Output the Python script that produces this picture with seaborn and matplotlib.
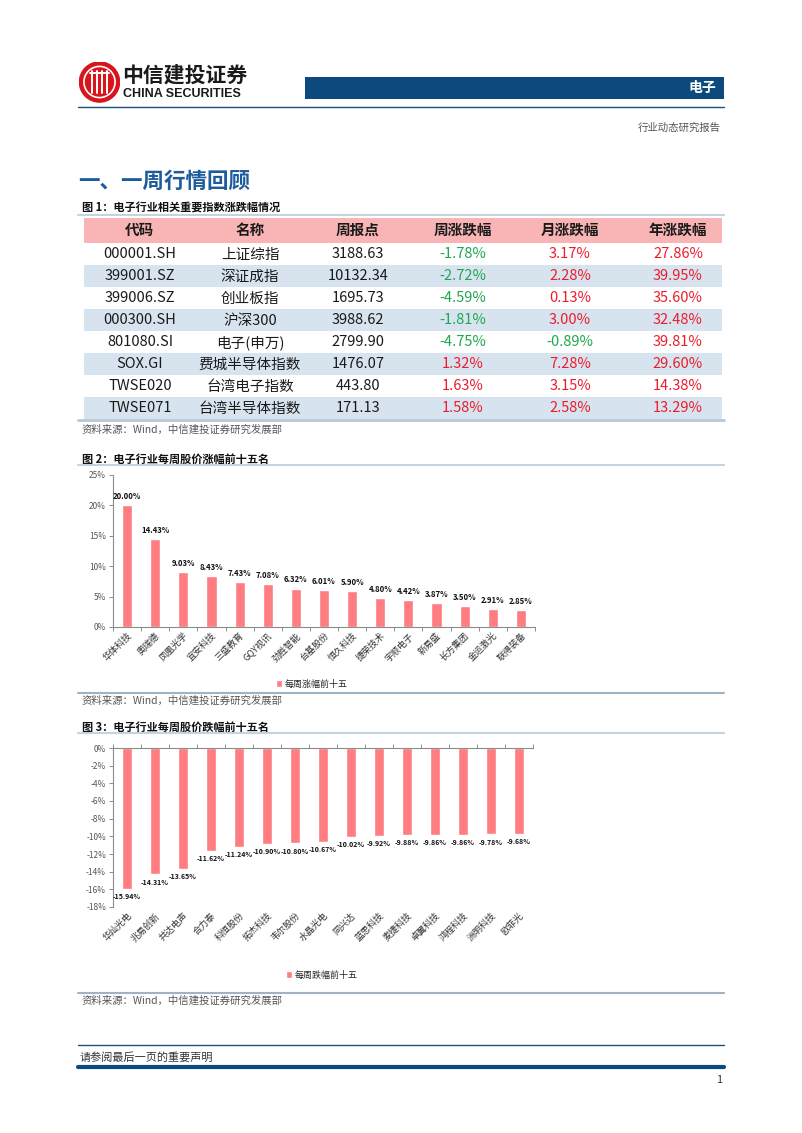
import matplotlib
matplotlib.use('Agg')
import matplotlib.pyplot as plt
import matplotlib.patches as mpatches
from matplotlib.lines import Line2D
from matplotlib.ticker import FixedLocator
import seaborn as sns
import pandas as pd
import numpy as np

sns.set_theme(style='white')
plt.rcParams['font.family'] = ['Noto Sans CJK SC', 'DejaVu Sans']
plt.rcParams['axes.unicode_minus'] = False

# ---- data ----
headers = ['代码', '名称', '周报点', '周涨跌幅', '月涨跌幅', '年涨跌幅']
codes = ['000001.SH', '399001.SZ', '399006.SZ', '000300.SH', '801080.SI', 'SOX.GI', 'TWSE020', 'TWSE071']
names = ['上证综指', '深证成指', '创业板指', '沪深300', '电子(申万)', '费城半导体指数', '台湾电子指数', '台湾半导体指数']
points = [3188.63, 10132.34, 1695.73, 3988.62, 2799.90, 1476.07, 443.80, 171.13]
week_chg = [-1.78, -2.72, -4.59, -1.81, -4.75, 1.32, 1.63, 1.58]
month_chg = [3.17, 2.28, 0.13, 3.00, -0.89, 7.28, 3.15, 2.58]
year_chg = [27.86, 39.95, 35.60, 32.48, 39.81, 29.60, 14.38, 13.29]

up_names = ['华体科技', '奥瑞德', '凤凰光学', '宜安科技', '三盛教育', 'GQY视讯', '劲胜智能', '台基股份',
            '恒久科技', '捷荣技术', '宇顺电子', '新易盛', '长方集团', '金运激光', '联得装备']
up_values = [20.00, 14.43, 9.03, 8.43, 7.43, 7.08, 6.32, 6.01, 5.90, 4.80, 4.42, 3.87, 3.50, 2.91, 2.85]

down_names = ['华灿光电', '兆易创新', '共达电声', '合力泰', '科恒股份', '拓杰科技', '韦尔股份', '水晶光电',
              '同兴达', '蓝思科技', '麦捷科技', '卓翼科技', '鸿程科技', '洲明科技', '欧菲光']
down_values = [-15.94, -14.31, -13.65, -11.62, -11.24, -10.90, -10.80, -10.67, -10.02, -9.92, -9.88,
               -9.86, -9.86, -9.78, -9.68]

# ---- page ----
W, H = 802, 1133
fig = plt.figure(figsize=(W / 100, H / 100), dpi=100)
fig.patch.set_facecolor('white')

def fx(x):
    return x / W

def fy(y):
    return 1 - y / H

def hline(y, color, lw, x0=78, x1=724):
    fig.add_artist(Line2D([fx(x0), fx(x1)], [fy(y), fy(y)], color=color, lw=lw,
                          transform=fig.transFigure))

def rect(x0, y0, x1, y1, color):
    fig.add_artist(mpatches.Rectangle((fx(x0), fy(y1)), (x1 - x0) / W, (y1 - y0) / H,
                                      facecolor=color, lw=0, transform=fig.transFigure))

def text(x, y, s, **kw):
    kw.setdefault('va', 'center')
    fig.text(fx(x), fy(y), s, **kw)

BLUE = '#0c4a7e'
PINK = '#ff7c80'
RED = '#ec1c2c'
GREEN = '#1ea84e'
GRAY_LINE = '#9fb3c6'

# logo
ax_logo = fig.add_axes([fx(79), fy(103), 41 / W, 42 / H])
ax_logo.set_xlim(0, 1)
ax_logo.set_ylim(0, 1)
ax_logo.set_aspect('equal')
ax_logo.axis('off')
ax_logo.add_patch(mpatches.Circle((0.5, 0.5), 0.49, color='#d8141c'))
ax_logo.add_patch(mpatches.Circle((0.5, 0.5), 0.38, fill=False, ec='white', lw=1.2))
for xx in [0.32, 0.44, 0.56, 0.68]:
    ax_logo.plot([xx, xx], [0.22, 0.78], color='white', lw=1.4)
ax_logo.plot([0.28, 0.72], [0.72, 0.72], color='white', lw=1.4)

text(122, 75, '中信建投证券', fontsize=15, fontweight='bold', color='#1a1a1a')
text(123, 94, 'CHINA SECURITIES', fontsize=9, fontweight='bold', color='#1a1a1a',
     family=['Liberation Sans', 'DejaVu Sans'])

rect(305, 77, 724, 99, BLUE)
text(716, 88, '电子', fontsize=10, fontweight='bold', color='white', ha='right')
hline(107, '#1d4f7c', 1.0)
text(721, 128, '行业动态研究报告', fontsize=7.5, color='#555555', ha='right')

text(78, 181, '一、一周行情回顾', fontsize=15.5, fontweight='bold', color='#1c5b9c')

# ---- table ----
text(82, 208, '图 1：电子行业相关重要指数涨跌幅情况', fontsize=8, fontweight='bold', color='#111111')
hline(215, '#c5d3e0', 1.5)
col_x = [140, 250, 358, 463, 570, 678]
rect(84, 218, 722, 243, '#f9b5b6')
for cx, h in zip(col_x, headers):
    text(cx, 230, h, fontsize=10.5, fontweight='bold', color='#1a1a1a', ha='center')

def chg_color(v):
    return RED if v >= 0 else GREEN

row_h = 22
for i in range(len(codes)):
    y0 = 243 + row_h * i
    if i % 2 == 1:
        rect(84, y0, 722, y0 + row_h, '#d7e4f0')
    yc = y0 + row_h / 2 + 0.5
    text(col_x[0], yc, codes[i], fontsize=10.5, color='#1a1a1a', ha='center')
    text(col_x[1], yc, names[i], fontsize=10.5, color='#1a1a1a', ha='center')
    text(col_x[2], yc, f'{points[i]:.2f}', fontsize=10.5, color='#1a1a1a', ha='center')
    for cx, v in zip(col_x[3:], [week_chg[i], month_chg[i], year_chg[i]]):
        text(cx, yc, f'{v:.2f}%', fontsize=10.5, color=chg_color(v), ha='center')
hline(420, '#b8c8d8', 2.0)
text(82, 430, '资料来源：Wind，中信建投证券研究发展部', fontsize=7.5, color='#555555', style='italic')

# ---- chart 2 ----
text(82, 459, '图 2：电子行业每周股价涨幅前十五名', fontsize=8, fontweight='bold', color='#111111')
hline(465, '#c5d3e0', 1.5)

ax2 = fig.add_axes([fx(113), fy(627), 422 / W, (627 - 475) / H])
df_up = pd.DataFrame({'name': up_names, 'value': up_values, 'series': '每周涨幅前十五'})
sns.barplot(data=df_up, x='name', y='value', hue='series', palette=[PINK], saturation=1,
            width=0.36, ax=ax2)
ax2.set_ylim(0, 25)
ax2.set_xlim(-0.5, 14.5)
ax2.set_yticks(range(0, 26, 5))
ax2.set_yticklabels([f'{v}%' for v in range(0, 26, 5)])
ax2.bar_label(ax2.containers[0], labels=[f'{v:.2f}%' for v in up_values], padding=3,
              fontsize=5.6, fontweight='bold', color='#111111')

# ---- chart 3 ----
text(82, 727, '图 3：电子行业每周股价跌幅前十五名', fontsize=8, fontweight='bold', color='#111111')
hline(733, '#c5d3e0', 1.5)

ax3 = fig.add_axes([fx(113), fy(907), 420 / W, (907 - 748) / H])
df_down = pd.DataFrame({'name': down_names, 'value': down_values, 'series': '每周跌幅前十五'})
sns.barplot(data=df_down, x='name', y='value', hue='series', palette=[PINK], saturation=1,
            width=0.36, ax=ax3)
ax3.set_ylim(-18, 0)
ax3.set_xlim(-0.5, 14.5)
ax3.set_yticks(range(-18, 1, 2))
ax3.set_yticklabels([f'{v}%' for v in range(-18, 1, 2)])
ax3.bar_label(ax3.containers[0], labels=[f'{v:.2f}%' for v in down_values], padding=3,
              fontsize=5.0, fontweight='bold', color='#111111')

for ax, legend_xy, spine_x in [(ax2, (312, 684), 'bottom'), (ax3, (322, 975), 'top')]:
    ax.set_xlabel('')
    ax.set_ylabel('')
    for s in ['top', 'right', 'bottom', 'left']:
        ax.spines[s].set_visible(s in ('left', spine_x))
        ax.spines[s].set_color('#8c8c8c')
        ax.spines[s].set_linewidth(0.8)
    ax.tick_params(axis='y', left=True, length=3, width=0.7, color='#8c8c8c',
                   labelsize=6, labelcolor='#555555', pad=2)
    ax.xaxis.set_minor_locator(FixedLocator(np.arange(-0.5, 15, 1)))
    ax.tick_params(axis='x', which='major', length=0, labelsize=6.5, labelcolor='#333333', pad=3,
                   labelbottom=True)
    ax.tick_params(axis='x', which='minor', length=3, width=0.7, color='#8c8c8c',
                   bottom=(spine_x == 'bottom'), top=(spine_x == 'top'))
    for lab in ax.get_xticklabels():
        lab.set_rotation(45)
        lab.set_ha('right')
        lab.set_rotation_mode('anchor')
    ax.grid(False)
    sns.move_legend(ax, 'center', bbox_to_anchor=(fx(legend_xy[0]), fy(legend_xy[1])),
                    bbox_transform=fig.transFigure, frameon=False, title=None,
                    fontsize=6.5, handlelength=0.7, handleheight=0.7, handletextpad=0.3)

hline(693, GRAY_LINE, 1.5)
text(82, 701, '资料来源：Wind，中信建投证券研究发展部', fontsize=7.5, color='#555555', style='italic')
hline(993, GRAY_LINE, 1.5)
text(82, 1001, '资料来源：Wind，中信建投证券研究发展部', fontsize=7.5, color='#555555', style='italic')

# ---- footer ----
hline(1045, '#1d4f7c', 1.0)
text(80, 1057, '请参阅最后一页的重要声明', fontsize=8, color='#333333')
hline(1067, BLUE, 3.0)
text(722, 1080, '1', fontsize=8, color='#333333', ha='right')

fig.savefig('out.png', dpi=100)
